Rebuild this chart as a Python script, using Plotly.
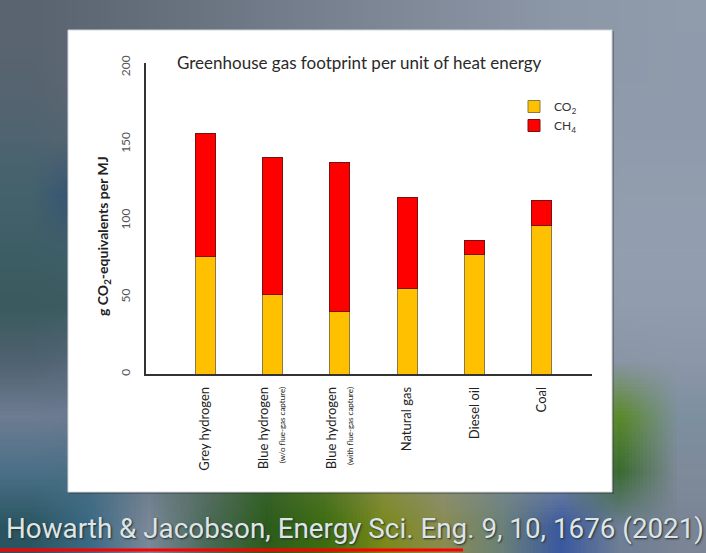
import base64, struct, zlib
import plotly.graph_objects as go

# ---------------- data ----------------
categories = ["Grey hydrogen", "Blue hydrogen (w/o)", "Blue hydrogen (with)",
              "Natural gas", "Diesel oil", "Coal"]
tick_labels = [
    "Grey hydrogen",
    "Blue hydrogen<br><span style='font-size:8px'>(w/o flue-gas capture)</span>",
    "Blue hydrogen<br><span style='font-size:8px'>(with flue-gas capture)</span>",
    "Natural gas",
    "Diesel oil",
    "Coal",
]
co2 = [77, 52, 41, 56, 78, 97]
ch4 = [80, 89, 97, 59, 9, 16]
y_ticks = [0, 50, 100, 150, 200]

# ---------------- geometry helpers ----------------
W, H = 706, 553
L, R, T, B = 146, 592, 63, 374   # plot area in pixels
def px2x(p): return (p - L) / (R - L)
def px2y(p): return (B - p) / (B - T)

# ---------------- blurred background image ----------------
grid = [
    "5a6470 5f6975 656f7c 6b7582 717b89 77818f 7d8795 838d9c 8892a2 8c97a7 8e99aa 909bac",
    "566470 5f6975 656f7c 6b7582 717b89 77818f 7d8795 838d9c 8892a2 8c97a7 8f9aab 8f9aac",
    "4e6470 566570 656f7c 6b7582 717b89 77818f 7d8795 838d9c 8892a2 8c97a7 909bad 909bad",
    "44626c 2f4f78 656f7c 6b7582 717b89 77818f 7d8795 838d9c 8892a2 8c97a7 929dae 929dae",
    "3e5e66 40606a 656f7c 6b7582 717b89 77818f 7d8795 838d9c 8892a2 8c97a7 939eb0 939eb0",
    "3a5a5e 3c5c62 656f7c 6b7582 717b89 77818f 7d8795 838d9c 8892a2 8c97a7 919cae 919cae",
    "4f6270 56687a 656f7c 6b7582 717b89 77818f 7d8795 838d9c 8892a2 8c97a7 8a95a6 8c97a8",
    "6e7c92 6a7a90 656f7c 6b7582 717b89 77818f 7d8795 838d9c 8892a2 8c97a7 5a8a28 7c90a0",
    "4a7088 4a6e84 6a7a88 5a6e64 3a6430 5a7830 8a8c50 8a9080 7a8a90 7a8aa0 3a6a30 7f8a9a",
    "2a5560 3a6a84 7a8898 4a6a58 2c5c1c 3c6c10 7a8a1a 8a8c50 6a8078 3a58a0 6e7e94 7a8494",
]
rows = [[bytes.fromhex(c) for c in r.split()] for r in grid]
gw, gh = len(rows[0]), len(rows)
raw = b"".join(b"\x00" + b"".join(r) for r in rows)
def chunk(tag, data):
    return struct.pack(">I", len(data)) + tag + data + struct.pack(">I", zlib.crc32(tag + data) & 0xffffffff)
png = (b"\x89PNG\r\n\x1a\n" + chunk(b"IHDR", struct.pack(">IIBBBBB", gw, gh, 8, 2, 0, 0, 0))
       + chunk(b"IDAT", zlib.compress(raw)) + chunk(b"IEND", b""))
bg_src = "data:image/png;base64," + base64.b64encode(png).decode()

# ---------------- figure ----------------
fig = go.Figure()
fig.add_trace(go.Bar(
    x=categories, y=co2, name="CO<sub>2</sub>", legendgroup="a",
    marker=dict(color="#FFC000", line=dict(color="#8a7a44", width=1)), width=0.3))
fig.add_trace(go.Bar(
    x=categories, y=ch4, name="CH<sub>4</sub>", legendgroup="b",
    marker=dict(color="#FF0000", line=dict(color="#7a1010", width=1)), width=0.3))

shapes = [
    dict(type="rect", xref="paper", yref="paper", layer="below",
         x0=px2x(69), x1=px2x(614), y0=px2y(31), y1=px2y(494),
         fillcolor="rgba(40,40,40,0.35)", line=dict(width=0)),
    dict(type="rect", xref="paper", yref="paper", layer="below",
         x0=px2x(68), x1=px2x(612), y0=px2y(30), y1=px2y(492),
         fillcolor="white", line=dict(color="#d0d4d8", width=1)),
    dict(type="line", xref="paper", yref="paper",
         x0=px2x(0), x1=px2x(463), y0=px2y(550), y1=px2y(550),
         line=dict(color="#ff0000", width=3)),
]

annotations = [
    dict(text="Greenhouse gas footprint per unit of heat energy", xref="paper", yref="paper",
         x=px2x(359), y=px2y(62), xanchor="center", yanchor="middle", showarrow=False,
         font=dict(family="Lato, Open Sans, sans-serif", size=17, color="#2a2a2a")),
    dict(text="<b>g CO<sub>2</sub>-equivalents per MJ</b>", xref="paper", yref="paper",
         x=px2x(103), y=px2y(236), xanchor="center", yanchor="middle", showarrow=False,
         textangle=-90, font=dict(family="Lato, Open Sans, sans-serif", size=14, color="#222222")),
    dict(text="Howarth &amp; Jacobson, Energy Sci. Eng. 9, 10, 1676 (2021)", xref="paper", yref="paper",
         x=px2x(355), y=px2y(528), xanchor="center", yanchor="middle", showarrow=False,
         font=dict(family="Roboto, sans-serif",
                   size=27.8, color="#dfe4e6", shadow="1px 1px 2px #203030")),
]

fig.update_layout(
    width=W, height=H, barmode="stack",
    margin=dict(l=L, r=W - R, t=T, b=H - B),
    paper_bgcolor="#7a8494", plot_bgcolor="rgba(0,0,0,0)",
    font=dict(family="Lato, Open Sans, sans-serif", color="#222222"),
    shapes=shapes, annotations=annotations,
    images=[dict(source=bg_src, xref="paper", yref="paper", x=px2x(0), y=px2y(0),
                 sizex=px2x(W) - px2x(0), sizey=px2y(0) - px2y(H),
                 xanchor="left", yanchor="top", sizing="stretch", layer="below")],
    legend=dict(x=px2x(514), y=px2y(92), xanchor="left", yanchor="top",
                traceorder="normal", tracegroupgap=6, bgcolor="rgba(0,0,0,0)",
                font=dict(size=12, color="#333333")),
    showlegend=True,
)
fig.update_xaxes(
    type="category", range=[-0.881, 5.747], tickvals=categories, ticktext=tick_labels,
    tickangle=-90, showline=True, linecolor="#333333", linewidth=1.5,
    ticks="outside", ticklen=6, tickcolor="rgba(0,0,0,0)", showgrid=False,
    tickfont=dict(size=13, color="#222222"))
fig.update_yaxes(
    range=[0, 203], tickvals=y_ticks, tickangle=-90, showline=True, linecolor="#333333",
    linewidth=1.5, ticks="outside", ticklen=9, tickcolor="rgba(0,0,0,0)", showgrid=False,
    zeroline=False, tickfont=dict(size=12, color="#555555"))

fig.write_html("out.html")
